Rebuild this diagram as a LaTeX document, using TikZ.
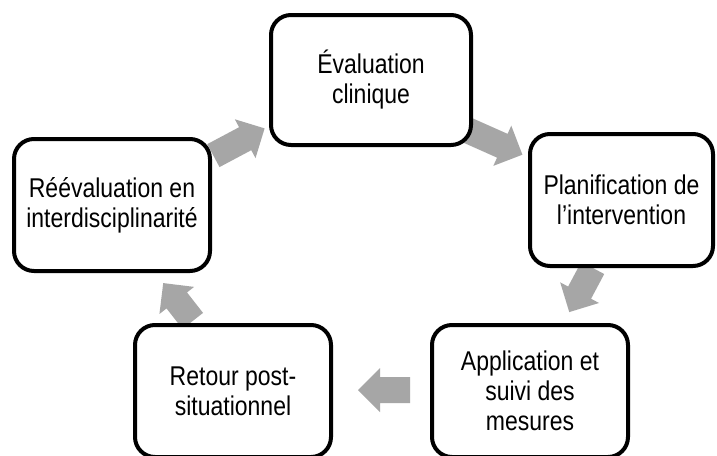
\documentclass[tikz,border=0pt]{standalone}
\usepackage{fontspec}
\usepackage{graphicx}
\setmainfont{Liberation Sans}
\definecolor{arrowgray}{HTML}{A6A6A6}
\newcommand\tline[1]{\scalebox{1}[1.18]{#1}}
\lineskiplimit=-100pt
\begin{document}
\begin{tikzpicture}[x=1pt,y=-1pt,
  box/.style={draw=black, line width=4pt, rounded corners=20pt, fill=white,
    inner sep=0pt, align=center, font=\fontsize{23}{30}\selectfont},
  blockarrow/.style={fill=arrowgray, draw=none}]
\clip (0,0) rectangle (717,455);
\fill[white] (0,0) rectangle (717,455);
% block arrow: center x, center y, angle, length
\newcommand\blockarr[4]{%
  \fill[blockarrow, shift={(#1,#2)}, rotate=#3]
    ({-#4/2},-13) -- ({#4/2-22},-13) -- ({#4/2-22},-22) -- ({#4/2},0)
    -- ({#4/2-22},22) -- ({#4/2-22},13) -- ({-#4/2},13) -- cycle;}
% block arrows (drawn under the boxes)
\blockarr{495}{142.5}{-24}{60}
\blockarr{581}{290}{-118}{50}
\blockarr{384}{390}{180}{52}
\blockarr{178}{302}{128}{48}
\blockarr{239}{142}{28}{58}
% boxes
\node[box, minimum width=200pt, minimum height=130pt] (eval) at (371,80)
  {\tline{Évaluation}\\\tline{clinique}};
\node[box, minimum width=183pt, minimum height=132pt] (plan) at (621.5,200)
  {\tline{Planification de}\\\tline{l’intervention}};
\node[box, minimum width=196pt, minimum height=132pt] (appl) at (530,391)
  {\tline{Application et}\\\tline{suivi des}\\\tline{mesures}};
\node[box, minimum width=196pt, minimum height=132pt] (retour) at (233,391)
  {\tline{Retour post-}\\\tline{situationnel}};
\node[box, minimum width=196pt, minimum height=132pt] (reeval) at (112,205)
  {\tline{Réévaluation en}\\\tline{interdisciplinarité}};
\end{tikzpicture}
\end{document}
